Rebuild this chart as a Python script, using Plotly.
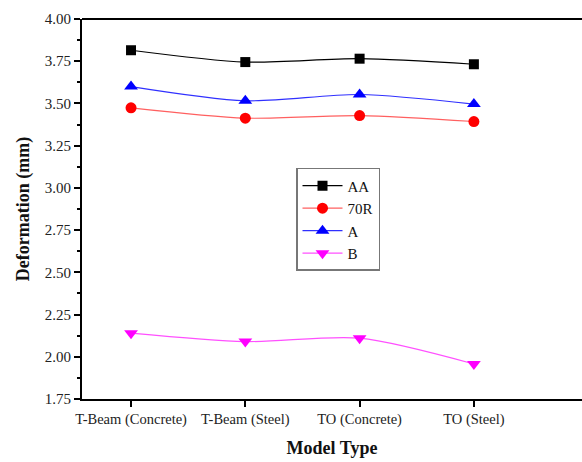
import plotly.graph_objects as go

categories = ["T-Beam (Concrete)", "T-Beam (Steel)", "TO (Concrete)", "TO (Steel)"]
series_names = ["AA", "70R", "A", "B"]
aa_values = [3.815, 3.745, 3.765, 3.732]
r70_values = [3.474, 3.413, 3.428, 3.393]
a_values = [3.600, 3.516, 3.553, 3.496]
b_values = [2.140, 2.090, 2.110, 1.957]
y_ticks = [1.75, 2.00, 2.25, 2.50, 2.75, 3.00, 3.25, 3.50, 3.75, 4.00]

all_values = [aa_values, r70_values, a_values, b_values]
colors = ["#000000", "#ff0000", "#0000ff", "#ff00ff"]
line_colors = ["#000000", "#ff6060", "#3030ff", "#ff50ff"]
symbols = ["square", "circle", "triangle-up", "triangle-down"]
sizes = [10, 11, 12, 12]

xs = list(range(len(categories)))
fig = go.Figure()
for name, vals, c, lc, s, sz in zip(series_names, all_values, colors, line_colors, symbols, sizes):
    fig.add_trace(go.Scatter(
        x=xs, y=vals, name=name, mode="lines+markers",
        line=dict(color=lc, width=1.2, shape="spline", smoothing=0.8),
        marker=dict(color=c, symbol=s, size=sz),
    ))

font_family = "Liberation Serif, Times New Roman, serif"
fig.update_layout(
    width=582, height=462,
    margin=dict(l=82, r=0, t=19, b=63, autoexpand=False),
    paper_bgcolor="white", plot_bgcolor="white",
    font=dict(family=font_family, size=14, color="#222222"),
    showlegend=True,
    legend=dict(
        x=0.428, y=0.608, xanchor="left", yanchor="top",
        bordercolor="#777777", borderwidth=1.5, bgcolor="white",
        font=dict(family=font_family, size=15, color="#111111"),
        tracegroupgap=0, itemwidth=40,
    ),
    xaxis=dict(
        range=[-0.429, 3.946],
        tickmode="array", tickvals=xs, ticktext=categories,
        showgrid=False, zeroline=False,
        showline=True, linecolor="black", linewidth=2, mirror=False,
        ticks="outside", ticklen=6, tickwidth=1.5, tickcolor="black",
        tickfont=dict(family=font_family, size=14.5, color="#222222"),
        title=dict(text="<b>Model Type</b>", font=dict(family=font_family, size=18, color="#111111"), standoff=14),
        automargin=False,
    ),
    yaxis=dict(
        range=[1.75, 4.0],
        tickmode="array", tickvals=y_ticks, ticktext=[f"{v:.2f}" for v in y_ticks],
        showgrid=False, zeroline=False,
        showline=True, linecolor="black", linewidth=2, mirror=False,
        ticks="outside", ticklen=6, tickwidth=1.5, tickcolor="black",
        minor=dict(dtick=0.125, tick0=1.75, ticks="outside", ticklen=3, tickwidth=1.5, tickcolor="black", showgrid=False),
        tickfont=dict(family=font_family, size=15, color="#222222"),
        title=dict(text="<b>Deformation (mm)</b>", font=dict(family=font_family, size=18, color="#111111"), standoff=10),
        automargin=False,
    ),
    shapes=[dict(type="line", xref="paper", yref="paper", x0=0, x1=1.02, y0=1, y1=1,
                 line=dict(color="black", width=2))],
)

fig.write_html(
    "out.html",
    config={"displayModeBar": False},
    post_script="document.body.style.margin='0';document.body.style.overflow='hidden';",
)
